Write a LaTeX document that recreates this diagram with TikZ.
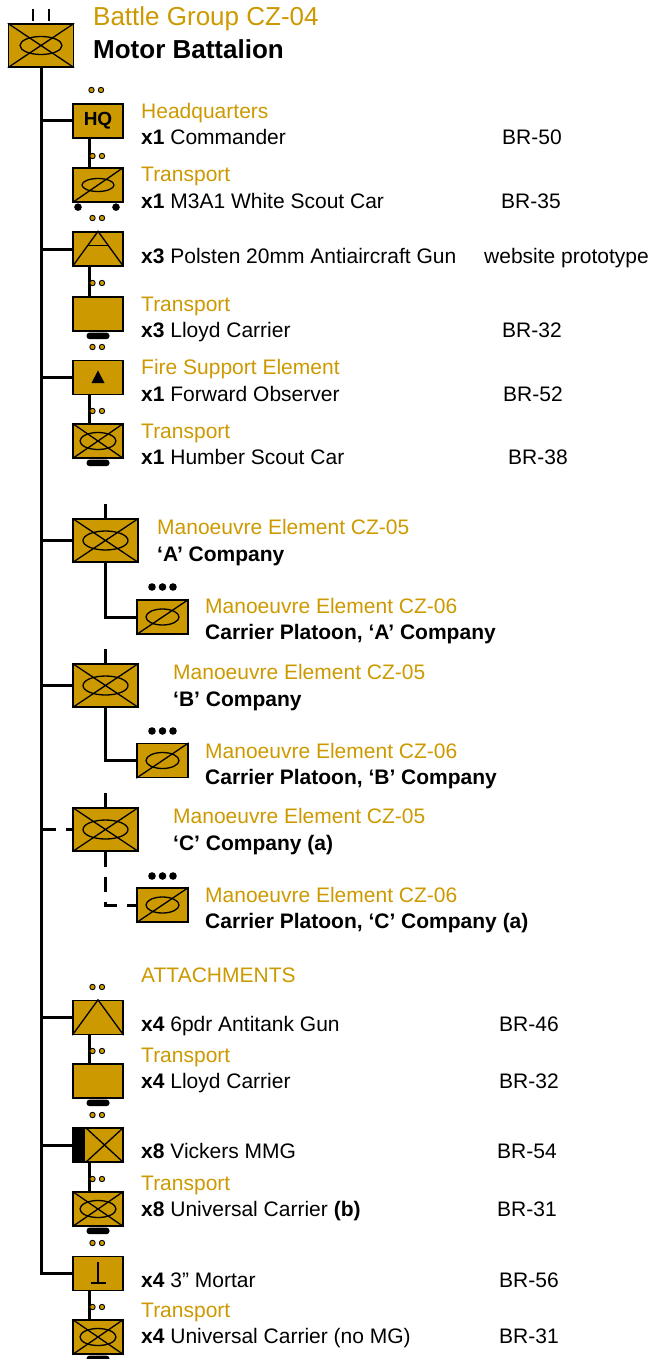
\documentclass[tikz,border=0pt]{standalone}
\usepackage{fontspec}
\setmainfont{Liberation Sans}
\usetikzlibrary{calc}
\definecolor{gold}{RGB}{204,153,0}
\newcommand\golddots[2]{\filldraw[fill=gold,draw=black,line width=0.9pt] (#1,#2) circle[radius=2.7pt] (#1+9.5,#2) circle[radius=2.7pt];}
\newcommand\blackdots[2]{\fill[black] (#1,#2) circle[radius=3.8pt] (#1+10.5,#2) circle[radius=3.8pt] (#1+21,#2) circle[radius=3.8pt];}
\newcommand\trk[1]{\fill[black,rounded corners=3pt] ([xshift=-11.5pt,yshift=-1pt]#1.south) rectangle ([xshift=11.5pt,yshift=-7.5pt]#1.south);}
\newcommand\infsym[3]{\draw[sym] (#1.north west) -- (#1.south east) (#1.south west) -- (#1.north east);
  \draw[sym] (#1.center) ellipse[x radius=#2pt, y radius=#3pt];}
\newcommand\recsym[3]{\draw[sym] (#1.south west) -- (#1.north east);
  \draw[sym] (#1.center) ellipse[x radius=#2pt, y radius=#3pt];}
\begin{document}
\begin{tikzpicture}[x=1pt,y=-1pt,
  unit/.style={draw=black,fill=gold,line width=1.3pt,rectangle,inner sep=0pt,minimum width=50pt,minimum height=34pt},
  big/.style={unit,minimum width=65pt,minimum height=43pt},
  plt/.style={unit,minimum width=51pt,minimum height=34pt},
  conn/.style={line width=3pt,black},
  dconn/.style={conn,dash pattern=on 15pt off 10pt},
  sym/.style={line width=1.3pt,black},
  tick/.style={line width=2.4pt,black},
  lab/.style={anchor=base west,inner sep=0pt,font=\fontsize{21}{25}\selectfont,text=gold},
  txt/.style={anchor=base west,inner sep=0pt,font=\fontsize{21}{25}\selectfont,text=black},
  ttl/.style={anchor=base west,inner sep=0pt,font=\fontsize{26}{30}\selectfont}]
\useasboundingbox (0,0) rectangle (656,1359);

% ---------- unit boxes ----------
\node[big] (top) at (41,45.5) {};
\node[unit,font=\bfseries\fontsize{19}{19}\selectfont] (hq) at (98,121) {HQ};
\node[unit] (t1) at (98,185) {};
\node[unit] (aa) at (98,249) {};
\node[unit] (ll1) at (98,314) {};
\node[unit] (fse) at (98,377.5) {};
\node[unit] (hum) at (98,441) {};
\node[big] (acoy) at (105.5,540.5) {};
\node[plt] (aplt) at (162.5,617) {};
\node[big] (bcoy) at (105.5,685.5) {};
\node[plt] (bplt) at (162.5,760.5) {};
\node[big] (ccoy) at (105.5,829.5) {};
\node[plt] (cplt) at (162.5,905) {};
\node[unit] (at) at (98,1017.5) {};
\node[unit] (ll2) at (98,1081) {};
\node[unit] (mmg) at (98,1145) {};
\node[unit] (uc1) at (98,1209) {};
\node[unit] (mor) at (98,1273.5) {};
\node[unit] (uc2) at (98,1337) {};

% ---------- connectors ----------
\draw[conn] (top.south) |- (mor.west);
\foreach \n in {hq,aa,fse,acoy,bcoy,at,mmg} {\draw[conn] (\n.west) -- (\n.west -| top.south);}
\draw[dconn] (ccoy.west -| top.south) -- (ccoy.west);
\draw[conn] ([xshift=-9pt]hq.south) -- ([xshift=-9pt]t1.north);
\draw[conn] ([xshift=-9pt]aa.south) -- ([xshift=-9pt]ll1.north);
\draw[conn] ([xshift=-9pt]fse.south) -- ([xshift=-9pt]hum.north);
\draw[conn] ([xshift=-9pt]at.south) -- ([xshift=-9pt]ll2.north);
\draw[conn] ([xshift=-9pt]mmg.south) -- ([xshift=-9pt]uc1.north);
\draw[conn] ([xshift=-9pt]mor.south) -- ([xshift=-9pt]uc2.north);
\draw[conn] (acoy.south) |- (aplt.west);
\draw[conn] (bcoy.south) |- (bplt.west);
\draw[dconn] (ccoy.south) |- (cplt.west);

% ---------- echelon marks ----------
\draw[tick] (33,9) -- (33,21) (49,9) -- (49,21);
\draw[tick] (acoy.north) -- ++(0,-14);
\draw[tick] (bcoy.north) -- ++(0,-14);
\draw[tick] (ccoy.north) -- ++(0,-14);
\golddots{91.5}{90}
\golddots{92.5}{156}
\golddots{92.5}{218}
\golddots{92.5}{283}
\golddots{92.5}{347}
\golddots{92.5}{411}
\golddots{92.5}{987}
\golddots{92.5}{1051}
\golddots{92.5}{1115}
\golddots{92.5}{1179}
\golddots{92.5}{1243}
\golddots{92.5}{1307}
\blackdots{152}{587}
\blackdots{152}{731}
\blackdots{152}{876}

% ---------- symbols ----------
\infsym{top}{21}{9}
\infsym{hum}{18}{8.5}
\infsym{acoy}{22.5}{9.5}
\infsym{bcoy}{22.5}{9.5}
\infsym{ccoy}{22.5}{9.5}
\infsym{uc1}{18}{8.5}
\infsym{uc2}{18}{8.5}
\recsym{t1}{16}{6.5}
\recsym{aplt}{16.5}{8}
\recsym{bplt}{16.5}{8}
\recsym{cplt}{16.5}{8}
\draw[sym] (aa.south west) -- (aa.north) -- (aa.south east);
\draw[sym] ($(aa.south west)!0.6!(aa.north)$) -- ($(aa.south east)!0.6!(aa.north)$);
\draw[sym] (at.south west) -- (at.north) -- (at.south east);
\fill[black] ([xshift=-6.5pt,yshift=-5.5pt]fse.center) -- ([xshift=6.5pt,yshift=-5.5pt]fse.center) -- ([yshift=7pt]fse.center) -- cycle;
\draw[line width=2.4pt] ([yshift=11.5pt]mor.center) -- ([yshift=-9.5pt]mor.center);
\draw[line width=2.4pt] ([xshift=-7.5pt,yshift=-9.5pt]mor.center) -- ([xshift=7.5pt,yshift=-9.5pt]mor.center);
\fill[black] (mmg.south west) rectangle ([xshift=13pt]mmg.north west);
\draw[sym] ([xshift=13pt]mmg.north west) -- (mmg.south east) ([xshift=13pt]mmg.south west) -- (mmg.north east);

% ---------- tracks and wheels ----------
\trk{ll1}
\trk{hum}
\trk{ll2}
\trk{uc1}
\trk{uc2}
\fill[black] ([xshift=-20pt,yshift=-4.5pt]t1.south) circle[radius=3.8pt] ([xshift=18pt,yshift=-4.5pt]t1.south) circle[radius=3.8pt];

% ---------- texts ----------
\node[ttl,text=gold] (ttl1) at (93,26) {Battle Group CZ-04};
\node[ttl,font=\bfseries\fontsize{26}{30}\selectfont] (ttl2) at (93,59) {Motor Battalion};

\node[lab] (l1) at (141,119) {Headquarters};
\node[txt] (x1) at (141,145) {\textbf{x1} Commander};
\node[txt] (b1) at (502,145) {BR-50};
\node[lab] (l2) at (141,182) {Transport};
\node[txt] (x2) at (141,208) {\textbf{x1} M3A1 White Scout Car};
\node[txt] (b2) at (501,208) {BR-35};
\node[txt] (x3) at (141,263) {\textbf{x3} Polsten 20mm Antiaircraft Gun};
\node[txt] (b3) at (484,263) {website prototype};
\node[lab] (l4) at (141,311) {Transport};
\node[txt] (x4) at (141,337) {\textbf{x3} Lloyd Carrier};
\node[txt] (b4) at (502,337) {BR-32};
\node[lab] (l5) at (141,374) {Fire Support Element};
\node[txt] (x5) at (141,401) {\textbf{x1} Forward Observer};
\node[txt] (b5) at (503,401) {BR-52};
\node[lab] (l6) at (141,438) {Transport};
\node[txt] (x6) at (141,464) {\textbf{x1} Humber Scout Car};
\node[txt] (b6) at (508,464) {BR-38};

\node[lab] (la) at (157,534) {Manoeuvre Element CZ-05};
\node[txt,font=\bfseries\fontsize{21}{25}\selectfont] (xa) at (157,561) {‘A’ Company};
\node[lab] (lap) at (205,613) {Manoeuvre Element CZ-06};
\node[txt,font=\bfseries\fontsize{21}{25}\selectfont] (xap) at (205,639) {Carrier Platoon, ‘A’ Company};
\node[lab] (lb) at (173,679) {Manoeuvre Element CZ-05};
\node[txt,font=\bfseries\fontsize{21}{25}\selectfont] (xb) at (173,706) {‘B’ Company};
\node[lab] (lbp) at (205,758) {Manoeuvre Element CZ-06};
\node[txt,font=\bfseries\fontsize{21}{25}\selectfont] (xbp) at (205,784) {Carrier Platoon, ‘B’ Company};
\node[lab] (lc) at (173,823) {Manoeuvre Element CZ-05};
\node[txt,font=\bfseries\fontsize{21}{25}\selectfont] (xc) at (173,850) {‘C’ Company (a)};
\node[lab] (lcp) at (205,902) {Manoeuvre Element CZ-06};
\node[txt,font=\bfseries\fontsize{21}{25}\selectfont] (xcp) at (205,928) {Carrier Platoon, ‘C’ Company (a)};

\node[lab] (latt) at (141,982.5) {ATTACHMENTS};
\node[txt] (x7) at (141,1031.5) {\textbf{x4} 6pdr Antitank Gun};
\node[txt] (b7) at (499,1031.5) {BR-46};
\node[lab] (l8) at (141,1062.5) {Transport};
\node[txt] (x8) at (141,1088.5) {\textbf{x4} Lloyd Carrier};
\node[txt] (b8) at (499,1088.5) {BR-32};
\node[txt] (x9) at (141,1158.5) {\textbf{x8} Vickers MMG};
\node[txt] (b9) at (497,1158.5) {BR-54};
\node[lab] (l10) at (141,1190.5) {Transport};
\node[txt] (x10) at (141,1216.5) {\textbf{x8} Universal Carrier \textbf{(b)}};
\node[txt] (b10) at (497,1216.5) {BR-31};
\node[txt] (x11) at (141,1287) {\textbf{x4} 3” Mortar};
\node[txt] (b11) at (499,1287) {BR-56};
\node[lab] (l12) at (141,1317.5) {Transport};
\node[txt] (x12) at (141,1343.5) {\textbf{x4} Universal Carrier (no MG)};
\node[txt] (b12) at (499,1343.5) {BR-31};
\end{tikzpicture}
\end{document}
